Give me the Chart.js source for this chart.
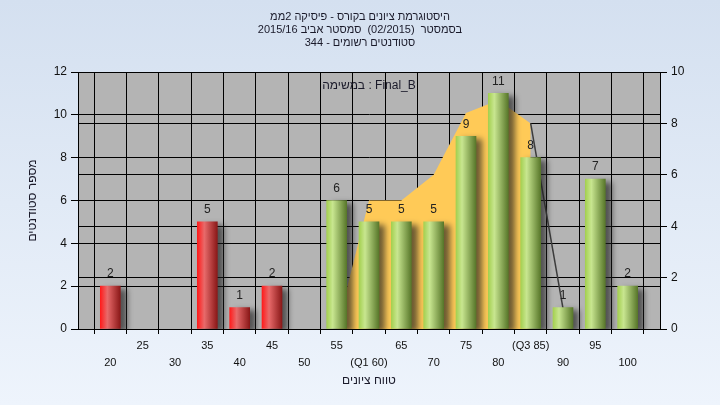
<!DOCTYPE html>
<html>
<head>
<meta charset="utf-8">
<script src="https://cdn.jsdelivr.net/npm/chart.js@4.4.1/dist/chart.umd.min.js"></script>
<style>
  html, body { margin:0; padding:0; }
  body { width:720px; height:405px; background: linear-gradient(#d4e0f0, #eef4fc); }
  #wrap { position:relative; width:720px; height:405px; }
</style>
</head>
<body>
<div id="wrap"><canvas id="myChart" width="720" height="405"></canvas></div>
<script>
var grades = [20,25,30,35,40,45,50,55,60,65,70,75,80,85,90,95,100]
var students = [2,null,null,5,1,2,null,6,5,5,5,9,11,8,1,7,2]
var areaValues = [null,null,null,null,null,null,null,0,5,5,6,8.4,8.9,8.0,null,null,null]
var dropValues = [null,null,null,null,null,null,null,null,null,null,null,null,null,8.0,0.8,null,null]
var quartiles = {60:'(Q1 60)', 85:'(Q3 85)'}
var passMark = 55
var leftTicks = [0,2,4,6,8,10,12]
var rightTicks = [0,2,4,6,8,10]

var titleLines = ['היסטוגרמת ציונים בקורס - פיסיקה 2ממ', 'בסמסטר  (02/2015)  סמסטר אביב 2015/16', 'סטודנטים רשומים - 344']
var noteText = 'במשימה : Final_B'

// empty slot on each side of the axis
var labels = [''].concat(grades.map(String)).concat([''])
function pad(arr){ return [null].concat(arr).concat([null]) }

var fontFam = '"Liberation Sans", Arial, sans-serif'

function barFill(ctx){
    var chart = ctx.chart
    var i = ctx.dataIndex
    var red = grades[i-1] < passMark
    var flat = red ? '#e02020' : '#98c850'
    if (!chart.scales || !chart.scales.x) return flat
    var x = chart.scales.x.getPixelForValue(i)
    if (!isFinite(x)) return flat
    var g = chart.ctx.createLinearGradient(x-10, 0, x+10, 0)
    if (red){
        g.addColorStop(0, '#ff1c1c'); g.addColorStop(0.35, '#e86a6a'); g.addColorStop(1, '#8a1818')
    } else {
        g.addColorStop(0, '#a4d050'); g.addColorStop(0.3, '#c8e690'); g.addColorStop(1, '#58772a')
    }
    return g
}

var plotBg = {
    id:'plotBg',
    beforeDraw: function(chart){
        var a = chart.chartArea, c = chart.ctx
        c.save(); c.fillStyle = '#b4b4b4'; c.fillRect(a.left, a.top, a.right-a.left, a.bottom-a.top); c.restore()
    }
}

var barShadow = {
    id:'barShadow',
    beforeDatasetDraw: function(chart, args){
        if (args.index !== 0) return
        var c = chart.ctx
        c.save()
        c.shadowColor = 'rgba(30,30,30,0.65)'; c.shadowOffsetX = 6; c.shadowOffsetY = 3; c.shadowBlur = 6
    },
    afterDatasetDraw: function(chart, args){
        if (args.index !== 0) return
        chart.ctx.restore()
    }
}

var barLabels = {
    id:'barLabels',
    afterDatasetsDraw: function(chart){
        var c = chart.ctx
        var meta = chart.getDatasetMeta(0)
        c.save()
        c.font = '12px ' + fontFam; c.fillStyle = '#222'; c.textAlign = 'center'; c.textBaseline = 'middle'
        meta.data.forEach(function(bar, i){
            var v = chart.data.datasets[0].data[i]
            if (v == null) return
            c.fillText(String(v), bar.x, bar.y - 12)
        })
        c.fillStyle = '#1a1a2a'
        c.fillText(noteText, (chart.chartArea.left+chart.chartArea.right)/2, 86)
        c.restore()
    }
}

var myChart = new Chart(document.getElementById('myChart'), {
    type:'bar',
    data:{
        labels: labels,
        datasets:[
            { type:'bar', data: pad(students), backgroundColor: barFill, barThickness: 20, yAxisID:'y', order: 1 },
            { type:'line', data: pad(areaValues), yAxisID:'y2', fill:'origin', backgroundColor:'#ffca57', borderWidth:0, pointRadius:0, tension:0, order: 3 },
            { type:'line', data: pad(dropValues), yAxisID:'y2', fill:false, borderColor:'#3c3c3c', borderWidth:1.5, pointRadius:0, tension:0, order: 2 }
        ]
    },
    options:{
        responsive:false,
        animation:false,
        devicePixelRatio:1,
        layout:{ padding:0 },
        plugins:{
            legend:{ display:false },
            tooltip:{ enabled:false },
            title:{ display:true, text: titleLines, color:'#1a1a2a', font:{ family: fontFam, size:11, weight:'normal', lineHeight:'13px' }, padding:{ top:10, bottom:23 } }
        },
        scales:{
            x:{
                offset:false,
                grid:{ color:'#000', lineWidth:1, tickLength:5 },
                border:{ color:'#000' },
                ticks:{
                    autoSkip:false, maxRotation:0, padding:3, color:'#111',
                    font:{ family: fontFam, size:11, lineHeight:'17px' },
                    callback:function(v, i){
                        var t = labels[i]
                        if (t === '') return ''
                        if (quartiles[t]) t = quartiles[t]
                        return i % 2 ? ['', t] : [t, '']
                    }
                },
                title:{ display:true, text:'טווח ציונים', color:'#1a1a2a', font:{ family: fontFam, size:12 }, padding:{ top:0, bottom:17 } },
                afterFit:function(s){ s.height = 76 }
            },
            y:{
                position:'left', min:0, max:12,
                afterBuildTicks:function(s){ s.ticks = leftTicks.map(function(v){ return {value:v} }) },
                grid:{ color:'#000', tickLength:7 },
                border:{ color:'#000' },
                ticks:{ padding:4, color:'#111', font:{ family: fontFam, size:12 } },
                title:{ display:true, text:'מספר סטודנטים', color:'#1a1a2a', font:{ family: fontFam, size:12 }, padding:{ top:25, bottom:0 } },
                afterFit:function(s){ s.width = 78 }
            },
            y2:{
                position:'right', min:0, max:10,
                afterBuildTicks:function(s){ s.ticks = rightTicks.map(function(v){ return {value:v} }) },
                grid:{ color:'#000', tickLength:7 },
                border:{ color:'#000' },
                ticks:{ padding:4, color:'#111', font:{ family: fontFam, size:12 } },
                afterFit:function(s){ s.width = 60 }
            }
        }
    },
    plugins:[plotBg, barShadow, barLabels]
})
</script>
</body>
</html>
